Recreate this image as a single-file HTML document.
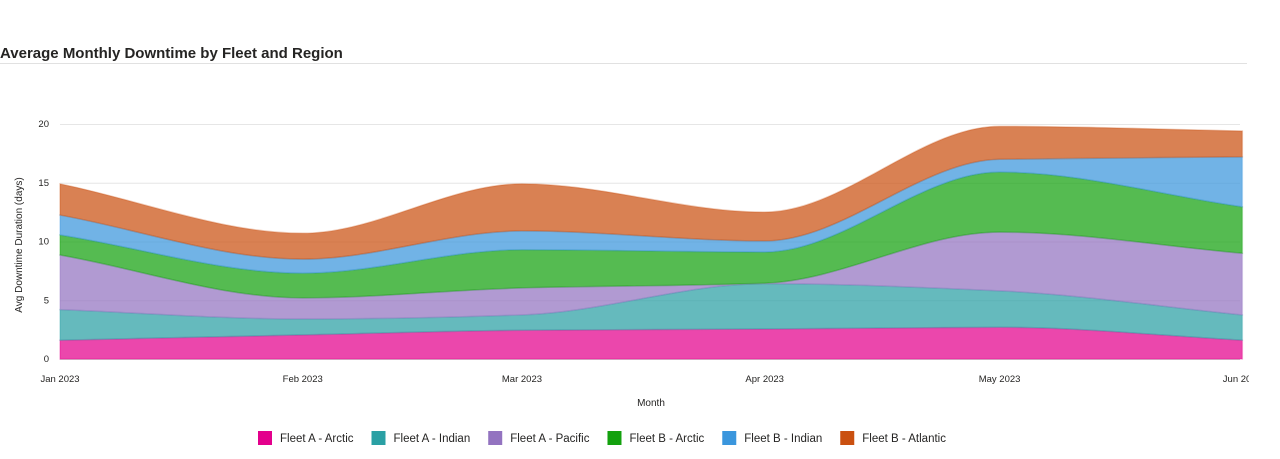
<!DOCTYPE html>
<html><head><meta charset="utf-8"><style>
body{margin:0;background:#fff;font-family:"Liberation Sans",sans-serif;}
svg text{font-family:"Liberation Sans",sans-serif;}
</style></head><body>
<svg width="1280" height="454">
<defs><clipPath id="lc"><rect x="0" y="0" width="1249" height="454"/></clipPath></defs>
<text x="0" y="58" font-size="15" font-weight="bold" fill="#252423">Average Monthly Downtime by Fleet and Region</text>
<line x1="0" y1="63.5" x2="1247" y2="63.5" stroke="#e1e1e1"/>
<g id="grid"></g><g id="areas"></g><g id="axes" clip-path="url(#lc)"></g>
<text x="651" y="406" font-size="10" fill="#252423" text-anchor="middle">Month</text>
<text transform="translate(22,245) rotate(-90)" font-size="10" fill="#252423" text-anchor="middle">Avg Downtime Duration (days)</text>
<g id="legend"></g>
</svg>
<script>
const categories=["Jan 2023","Feb 2023","Mar 2023","Apr 2023","May 2023","Jun 2023"];
const dayOffsets=[0,31,59,90,120,151];
const seriesNames=["Fleet A - Arctic","Fleet A - Indian","Fleet A - Pacific","Fleet B - Arctic","Fleet B - Indian","Fleet B - Atlantic"];
const colors=["#e3008c","#2aa0a4","#9373c0","#13a10e","#3a96dd","#ca5010"];
const fleetAArctic=[1.6,2.05,2.45,2.55,2.7,1.6];
const fleetAIndian=[2.6,1.35,1.3,3.85,3.1,2.15];
const fleetAPacific=[4.65,1.8,2.3,0.05,5.0,5.25];
const fleetBArctic=[1.7,2.1,3.25,2.65,5.1,3.95];
const fleetBIndian=[1.7,1.2,1.6,0.95,1.1,4.25];
const fleetBAtlantic=[2.65,2.2,4.0,2.45,2.8,2.2];
const yTicks=[0,5,10,15,20];
const series=[fleetAArctic,fleetAIndian,fleetAPacific,fleetBArctic,fleetBIndian,fleetBAtlantic];
const NS="http://www.w3.org/2000/svg";
const x=d=>60+d*7.83, y=v=>359-v*11.75;
function mk(t,a,p){const e=document.createElementNS(NS,t);for(const k in a)e.setAttribute(k,a[k]);p.appendChild(e);return e;}
const grid=document.getElementById('grid'),axes=document.getElementById('axes'),areas=document.getElementById('areas');
yTicks.forEach(t=>{const l=mk('line',{x1:60,x2:1240,y1:y(t)+.5,y2:y(t)+.5,stroke:t?'#e6e6e6':'#ccc'},grid);

const tx=mk('text',{x:49,y:y(t)+3,'font-size':9.5,fill:'#252423','text-anchor':'end'},axes);tx.textContent=t;
});
categories.forEach((c,i)=>{const tx=mk('text',{x:x(dayOffsets[i]),y:382,'font-size':9.5,fill:'#252423','text-anchor':'middle'},axes);tx.textContent=c;
});
function mono(px,py){const n=px.length,d=[],m=[];for(let i=0;i<n-1;i++)d.push((py[i+1]-py[i])/(px[i+1]-px[i]));
m[0]=d[0];m[n-1]=d[n-2];
for(let i=1;i<n-1;i++){if(d[i-1]*d[i]<=0)m[i]=0;else{const h0=px[i]-px[i-1],h1=px[i+1]-px[i];m[i]=3*(h0+h1)/((2*h1+h0)/d[i-1]+(h1+2*h0)/d[i]);}}
let s='';for(let i=0;i<n-1;i++){const h=(px[i+1]-px[i])/3;s+=` C${px[i]+h},${py[i]+m[i]*h} ${px[i+1]-h},${py[i+1]-m[i+1]*h} ${px[i+1]},${py[i+1]}`;}return s;}
let base=dayOffsets.map(()=>0);
const px=dayOffsets.map(x);
series.forEach((s,k)=>{const top=base.map((b,i)=>b+s[i]);
const ty=top.map(y),by=base.map(y);
const rx=px.slice().reverse(),rby=by.slice().reverse();
const dpath=`M${px[0]},${ty[0]}`+mono(px,ty)+` L${rx[0]},${rby[0]}`+mono(rx,rby)+'Z';
const p=mk('path',{d:dpath,fill:colors[k],'fill-opacity':0.72,stroke:colors[k],'stroke-opacity':0.3,'stroke-width':1.5},areas);


base=top;});
const lg=document.getElementById('legend');let lx=258;
seriesNames.forEach((n,k)=>{const g=mk('g',{},lg);

mk('rect',{x:lx,y:431,width:14,height:14,fill:colors[k]},g);
const t=mk('text',{x:lx+22,y:442,'font-size':11.5,fill:'#252423'},g);t.textContent=n;
lx+=22+t.getComputedTextLength()+18;});
</script>
</body></html>
